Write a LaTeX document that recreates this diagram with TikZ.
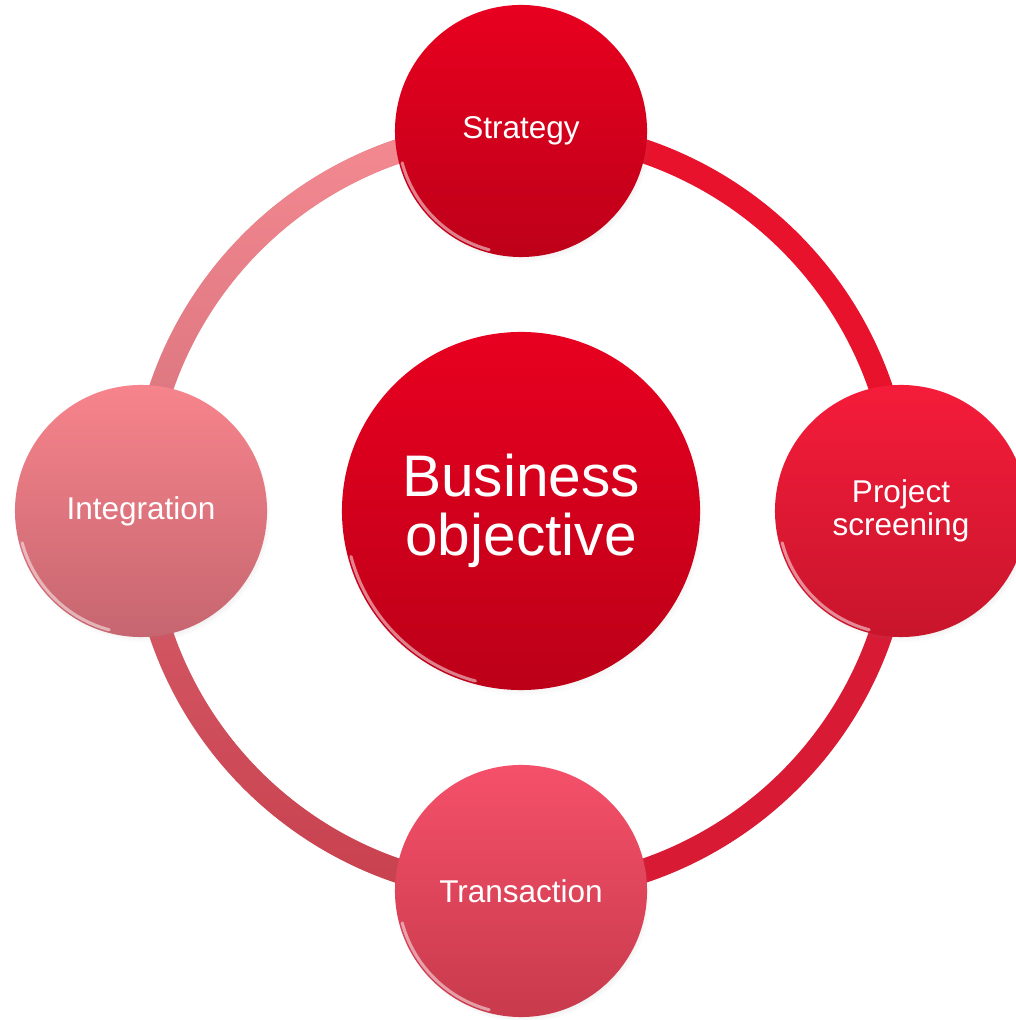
\documentclass[tikz,border=0pt]{standalone}
\usepackage{fontspec}
\setmainfont{Liberation Sans}
\usetikzlibrary{shadows}
\usetikzlibrary{fadings}
\usetikzlibrary{backgrounds}

\tikzfading[name=fadeDown, top color=transparent!0, bottom color=transparent!100]
\tikzfading[name=fadeUp, top color=transparent!100, bottom color=transparent!0]

\definecolor{objTop}{HTML}{E80020}
\definecolor{objBot}{HTML}{BC0018}
\definecolor{stratTop}{HTML}{E8001F}
\definecolor{stratBot}{HTML}{BE0019}
\definecolor{projTop}{HTML}{F51C3A}
\definecolor{projBot}{HTML}{C8152C}
\definecolor{transTop}{HTML}{F5506A}
\definecolor{transBot}{HTML}{C83A4C}
\definecolor{integTop}{HTML}{F7848C}
\definecolor{integBot}{HTML}{C66670}
\definecolor{ringTR}{HTML}{E8122C}
\definecolor{ringBR}{HTML}{D81A34}
\definecolor{ringBL}{HTML}{D8606C}
\definecolor{ringBLb}{HTML}{C8404E}
\definecolor{ringTL}{HTML}{D4707A}
\definecolor{ringTLb}{HTML}{F58A92}

\begin{document}
\begin{tikzpicture}[x = 0.025cm, y = 0.025cm]
	\tikzstyle{ballStyle} = [shape = circle, inner sep = 0pt, outer sep = 0pt, text = white, align = center, circular drop shadow = {shadow xshift = 0.06cm, shadow yshift = -0.1cm, opacity = 0.3, shadow scale = 1.01}]
	\tikzstyle{smallStyle} = [ballStyle, minimum size = 6.3cm, font = \fontsize{22.4}{23}\selectfont]
	\tikzstyle{bigStyle} = [ballStyle, minimum size = 8.95cm, font = \fontsize{41.7}{42}\selectfont]
	\tikzstyle{ringStyle} = [line width = 0.6cm, bend left = 45]
	\tikzstyle{rimStyle} = [white, opacity = 0.5, line width = 2.2pt, line cap = round]
	\useasboundingbox (0, 0) rectangle (1016, 1020);
	\node[bigStyle, top color = objTop, bottom color = objBot] (obj) at (521, 509) {Business\\objective};
	\node[smallStyle, top color = stratTop, bottom color = stratBot] (strat) at (521, 889) {Strategy};
	\node[smallStyle, top color = projTop, bottom color = projBot] (proj) at (901, 509) {Project\\screening};
	\node[smallStyle, top color = transTop, bottom color = transBot] (trans) at (521, 129) {Transaction};
	\node[smallStyle, top color = integTop, bottom color = integBot] (integ) at (141, 509) {Integration};
	% glossy rims
	\foreach \n/\r in {strat/123, proj/123, trans/123, integ/123, obj/176}
		\draw[rimStyle] (\n.center) ++(195:\r) arc[start angle = 195, end angle = 255, radius = \r];
	% the ring behind the balls
	\begin{scope}[on background layer]
		\draw[ringStyle, draw = ringTR] (strat.center) to (proj.center);
		\draw[ringStyle, draw = ringBR] (proj.center) to (trans.center);
		\draw[ringStyle, draw = ringBL] (trans.center) to (integ.center);
		\draw[ringStyle, draw = ringBLb, path fading = fadeUp] (trans.center) to (integ.center);
		\draw[ringStyle, draw = ringTL] (integ.center) to (strat.center);
		\draw[ringStyle, draw = ringTLb, path fading = fadeDown] (integ.center) to (strat.center);
	\end{scope}
\end{tikzpicture}
\end{document}
